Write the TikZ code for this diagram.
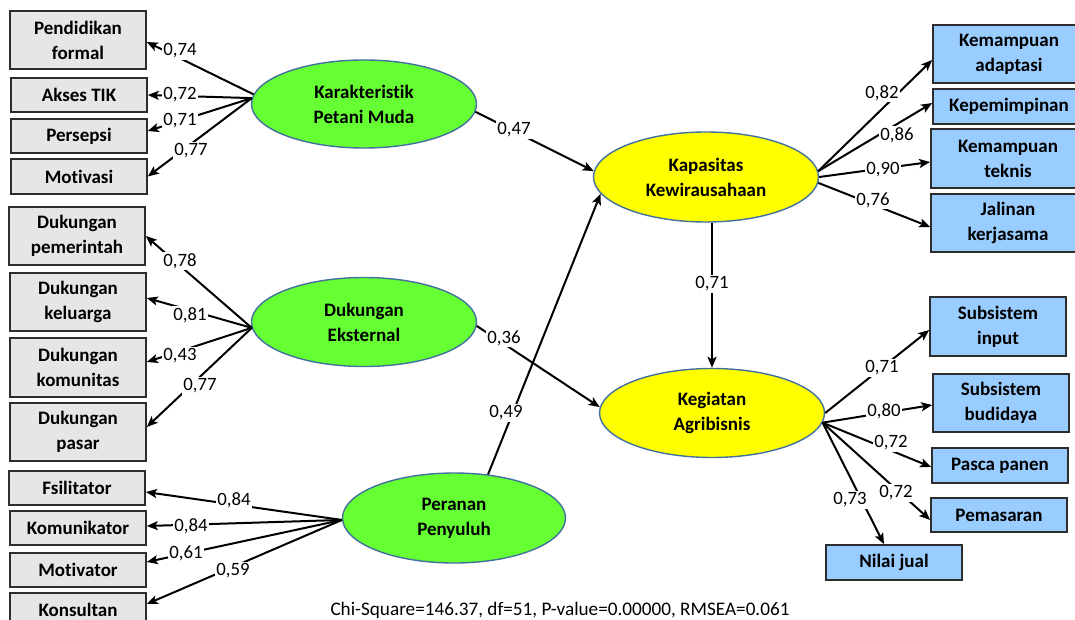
\documentclass[tikz,border=0pt]{standalone}
\usepackage{fontspec}
\setmainfont{Carlito}[Ligatures=NoCommon]
\usetikzlibrary{arrows.meta,shapes.geometric,calc}
\definecolor{lgray}{RGB}{231,230,230}
\definecolor{lblue}{RGB}{153,204,255}
\definecolor{lgreen}{RGB}{102,255,51}
\definecolor{lyellow}{RGB}{255,255,0}
\definecolor{boxline}{RGB}{45,45,45}
\definecolor{ellline}{RGB}{65,113,156}
\newcommand\bxfont{\fontsize{19}{25}\selectfont\bfseries}
\newcommand\lbfont{\fontsize{18.8}{22}\selectfont}
\begin{document}
\begin{tikzpicture}[x=1pt,y=-1pt,
  box/.style={draw=boxline, line width=1.6pt, inner sep=0pt, align=center, font=\bxfont},
  lbox/.style={box, fill=lgray, minimum width=136pt},
  rbox/.style={box, fill=lblue},
  lat/.style={ellipse, draw=ellline, line width=1.4pt, inner sep=0pt, align=center, font=\bxfont, minimum width=225pt, minimum height=89pt},
  arr/.style={line width=2pt, -{Stealth[length=11pt,width=9pt,inset=2.5pt]}},
  lab/.style={fill=white, inner sep=1.5pt, font=\lbfont}
]
\useasboundingbox (0,0) rectangle (1075,620);
\fill[white] (0,0) rectangle (1075,620);

% indicator boxes (left)
\node[lbox, minimum height=58pt] (pf) at (78,40) {Pendidikan\\formal};
\node[lbox, minimum height=34pt] (tik) at (79,95) {Akses TIK};
\node[lbox, minimum height=34pt] (pers) at (79,136) {Persepsi};
\node[lbox, minimum height=35pt] (motv) at (79,176.5) {Motivasi};
\node[lbox, minimum height=58pt] (pem) at (77,236) {Dukungan\\pemerintah};
\node[lbox, minimum height=58pt] (kel) at (78,302) {Dukungan\\keluarga};
\node[lbox, minimum height=59pt] (kom) at (78,367.5) {Dukungan\\komunitas};
\node[lbox, minimum height=58pt] (pas) at (78,432) {Dukungan\\pasar};
\node[lbox, minimum height=34pt] (fas) at (77,488) {Fsilitator};
\node[lbox, minimum height=34pt] (komu) at (78,528) {Komunikator};
\node[lbox, minimum height=34pt] (motr) at (78,570) {Motivator};
\node[lbox, minimum height=58pt] (kons) at (78,622) {\raisebox{6pt}[0pt][0pt]{Konsultan}};

% indicator boxes (right)
\node[rbox, minimum width=152pt, minimum height=58pt] (ka) at (1009,54) {Kemampuan\\adaptasi};
\node[rbox, minimum width=152pt, minimum height=35pt] (kp) at (1009,106.5) {Kepemimpinan};
\node[rbox, minimum width=154pt, minimum height=59pt] (kt) at (1008,158.5) {Kemampuan\\teknis};
\node[rbox, minimum width=154pt, minimum height=58pt] (jk) at (1008,223) {Jalinan\\kerjasama};
\node[rbox, minimum width=136pt, minimum height=59pt] (si) at (998,326.5) {Subsistem\\input};
\node[rbox, minimum width=136pt, minimum height=58pt] (sb) at (1001,403) {Subsistem\\budidaya};
\node[rbox, minimum width=136pt, minimum height=35pt] (pp) at (1000,465.5) {Pasca panen};
\node[rbox, minimum width=136pt, minimum height=34pt] (pm) at (999,515) {Pemasaran};
\node[rbox, minimum width=136pt, minimum height=35pt] (nj) at (894,562.5) {Nilai jual};

% latent variables
\node[lat, fill=lgreen, minimum height=88pt] (K) at (364,104) {Karakteristik\\Petani Muda};
\node[lat, fill=lgreen] (D) at (364,322) {Dukungan\\Eksternal};
\node[lat, fill=lgreen, minimum width=223pt, minimum height=90pt] (P) at (454,518) {Peranan\\Penyuluh};
\node[lat, fill=lyellow, minimum height=90pt] (KK) at (706,177) {Kapasitas\\Kewirausahaan};
\node[lat, fill=lyellow] (KA) at (712,413) {Kegiatan\\Agribisnis};

% loadings: Karakteristik Petani Muda
\draw[arr] (K.175) -- ([yshift=-2pt]pf.east);
\draw[arr] (K.177) -- (tik.east);
\draw[arr] (K.177) -- ([yshift=5pt]pers.east);
\draw[arr] (K.177) -- (motv.east);
% loadings: Dukungan Eksternal
\draw[arr] (D.183) -- (pem.east);
\draw[arr] (D.183) -- ([yshift=4pt]kel.east);
\draw[arr] (D.183) -- ([yshift=5.5pt]kom.east);
\draw[arr] (D.183) -- ([yshift=5pt]pas.east);
% loadings: Peranan Penyuluh
\draw[arr] (P.181) -- ([yshift=-4pt]fas.east);
\draw[arr] (P.181) -- ([yshift=2pt]komu.east);
\draw[arr] (P.181) -- ([yshift=8pt]motr.east);
\draw[arr] (P.181) -- ([yshift=18pt]kons.east);
% structural paths
\draw[arr] (K.356) -- (KK.177);
\draw[arr] (D.358) -- (KA.177);
\draw[arr] (P.52) -- (KK.189);
\draw[arr] (KK.south -| KA.north) -- (KA.north);
% loadings: Kapasitas Kewirausahaan
\draw[arr] (KK.3) -- ([yshift=-6pt]ka.west);
\draw[arr] (KK.3) -- ([yshift=3.5pt]kp.west);
\draw[arr] (KK.0) -- ([yshift=-3.5pt]kt.west);
\draw[arr] (KK.357) -- ([yshift=-4pt]jk.west);
% loadings: Kegiatan Agribisnis
\draw[arr] (KA.0) -- ([yshift=-3.5pt]si.west);
\draw[arr] (KA.355) -- ([yshift=-2pt]sb.west);
\draw[arr] (KA.355) -- ([yshift=-1.5pt]pp.west);
\draw[arr] (KA.355) -- ([yshift=-5pt]pm.west);
\draw[arr] (KA.355) -- ([xshift=-10pt]nj.north);

% coefficient labels
\node[lab] (l1) at (180,51) {0,74};
\node[lab] (l2) at (180,95) {0,72};
\node[lab] (l3) at (180,121) {0,71};
\node[lab] (l4) at (191,151) {0,77};
\node[lab] (l5) at (180,261) {0,78};
\node[lab] (l6) at (190,315) {0,81};
\node[lab] (l7) at (180,356) {0,43};
\node[lab] (l8) at (200,386) {0,77};
\node[lab] (l9) at (234,500) {0,84};
\node[lab] (l10) at (191,526) {0,84};
\node[lab] (l11) at (186,553) {0,61};
\node[lab] (l12) at (233,571) {0,59};
\node[lab] (l13) at (514,130) {0,47};
\node[lab] (l14) at (504,338) {0,36};
\node[lab] (l15) at (506,413) {0,49};
\node[lab] (l16) at (712,284) {0,71};
\node[lab] (l17) at (882,93) {0,82};
\node[lab] (l18) at (897,135) {0,86};
\node[lab] (l19) at (883,170) {0,90};
\node[lab] (l20) at (873,200) {0,76};
\node[lab] (l21) at (882,368) {0,71};
\node[lab] (l22) at (884,411) {0,80};
\node[lab] (l23) at (891,443) {0,72};
\node[lab] (l24) at (896,493) {0,72};
\node[lab] (l25) at (850,500) {0,73};

\node[font=\fontsize{19.2}{22}\selectfont, anchor=base, inner sep=0pt] (fit) at (560,615) {Chi-Square=146.37, df=51, P-value=0.00000, RMSEA=0.061};
\end{tikzpicture}
\end{document}
